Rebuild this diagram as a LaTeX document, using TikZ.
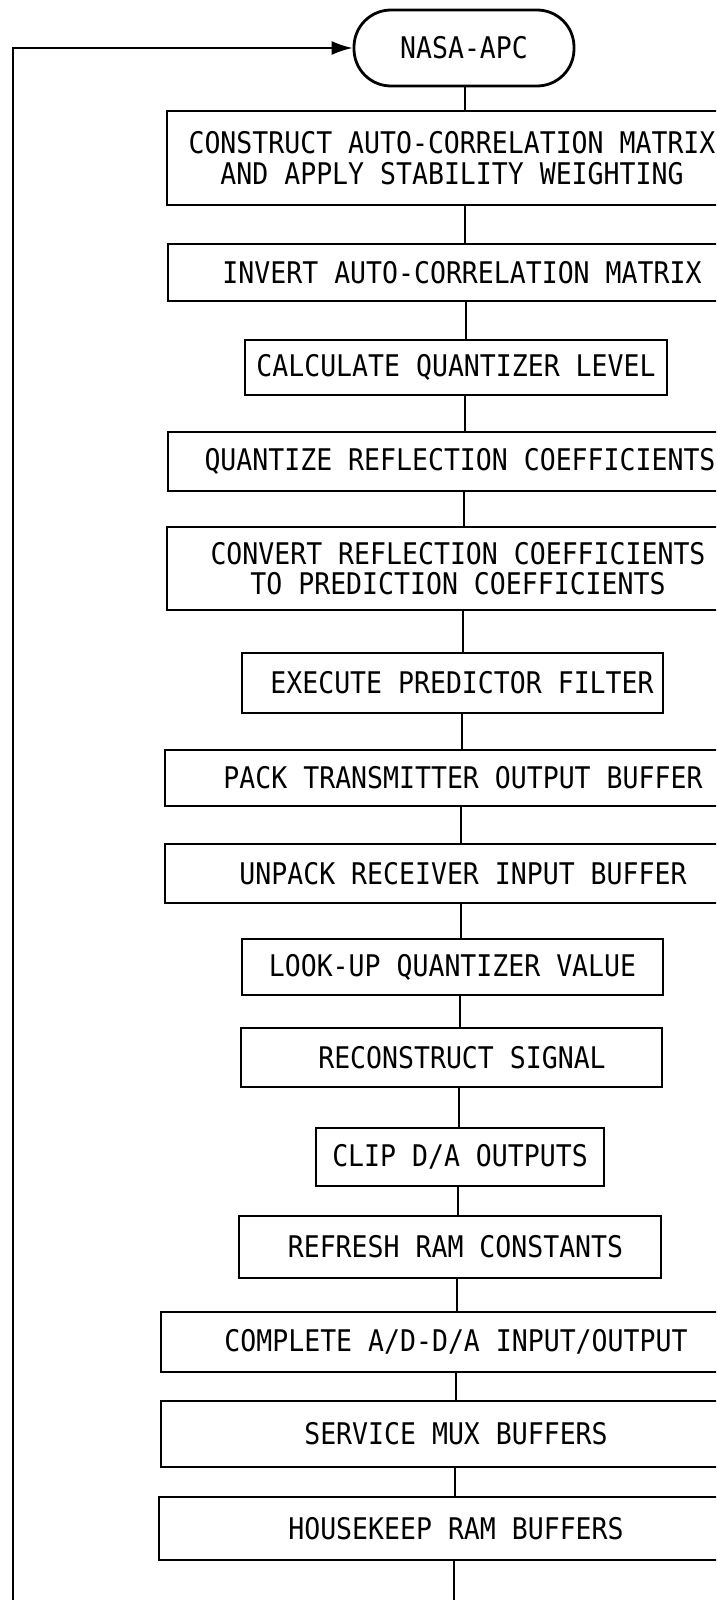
\documentclass[tikz,border=0pt]{standalone}
\usepackage{fontspec}
\newfontfamily\flowfont[FakeStretch=0.89]{DejaVu Sans Mono}
\usetikzlibrary{arrows.meta}
\begin{document}
\begin{tikzpicture}[x=1pt,y=-1pt,
  txt/.style={font=\flowfont\fontsize{29.8pt}{30.5pt}\selectfont},
  box/.style={txt, draw, line width=1.8pt, inner sep=0pt, align=center},
  term/.style={txt, draw, line width=2.8pt, rounded corners=37pt,
    minimum width=220pt, minimum height=76pt, inner sep=0pt},
  conn/.style={line width=1.6pt},
  loopline/.style={line width=2pt}]
\path[use as bounding box, fill=white] (0,0) rectangle (716,1600);
\clip (0,0) rectangle (716,1600);

\node[term] (t) at (464,48) {NASA-APC};

\node[box, minimum width=570pt, minimum height=94pt] (b1) at (452,158)
  {CONSTRUCT AUTO-CORRELATION MATRIX\\AND APPLY STABILITY WEIGHTING};
\node[box, minimum width=588pt, minimum height=57pt] (b2) at (462,272.5)
  {INVERT AUTO-CORRELATION MATRIX};
\node[box, minimum width=422pt, minimum height=55pt] (b3) at (456,367.5)
  {CALCULATE QUANTIZER LEVEL};
\node[box, minimum width=584pt, minimum height=59pt] (b4) at (460,461.5)
  {QUANTIZE REFLECTION COEFFICIENTS};
\node[box, minimum width=582pt, minimum height=83pt] (b5) at (458,568.5)
  {CONVERT REFLECTION COEFFICIENTS\\TO PREDICTION COEFFICIENTS};
\node[box, minimum width=421pt, minimum height=60pt] (b6) at (452.5,683)
  {\hspace*{19pt}EXECUTE PREDICTOR FILTER};
\node[box, minimum width=596pt, minimum height=56pt] (b7) at (463,778)
  {PACK TRANSMITTER OUTPUT BUFFER};
\node[box, minimum width=596pt, minimum height=59pt] (b8) at (463,873.5)
  {UNPACK RECEIVER INPUT BUFFER};
\node[box, minimum width=421pt, minimum height=56pt] (b9) at (452.5,967)
  {LOOK-UP QUANTIZER VALUE};
\node[box, minimum width=421pt, minimum height=59pt] (b10) at (451.5,1057.5)
  {\hspace*{21pt}RECONSTRUCT SIGNAL};
\node[box, minimum width=288pt, minimum height=58pt] (b11) at (460,1157)
  {CLIP D/A OUTPUTS};
\node[box, minimum width=422pt, minimum height=62pt] (b12) at (450,1247)
  {\hspace*{11pt}REFRESH RAM CONSTANTS};
\node[box, minimum width=590pt, minimum height=60pt] (b13) at (456,1342)
  {COMPLETE A/D-D/A INPUT/OUTPUT};
\node[box, minimum width=590pt, minimum height=66pt] (b14) at (456,1434)
  {SERVICE MUX BUFFERS};
\node[box, minimum width=594pt, minimum height=63pt] (b15) at (456,1528.5)
  {HOUSEKEEP RAM BUFFERS};

\draw[conn] (t.south -| 465,0) -- (b1.north -| 465,0);
\draw[conn] (b1.south -| 465,0) -- (b2.north -| 465,0);
\draw[conn] (b2.south -| 466,0) -- (b3.north -| 466,0);
\draw[conn] (b3.south -| 465,0) -- (b4.north -| 465,0);
\draw[conn] (b4.south -| 464,0) -- (b5.north -| 464,0);
\draw[conn] (b5.south -| 463,0) -- (b6.north -| 463,0);
\draw[conn] (b6.south -| 462,0) -- (b7.north -| 462,0);
\draw[conn] (b7.south -| 461,0) -- (b8.north -| 461,0);
\draw[conn] (b8.south -| 461,0) -- (b9.north -| 461,0);
\draw[conn] (b9.south -| 460,0) -- (b10.north -| 460,0);
\draw[conn] (b10.south -| 459,0) -- (b11.north -| 459,0);
\draw[conn] (b11.south -| 458,0) -- (b12.north -| 458,0);
\draw[conn] (b12.south -| 457,0) -- (b13.north -| 457,0);
\draw[conn] (b13.south -| 456,0) -- (b14.north -| 456,0);
\draw[conn] (b14.south -| 455,0) -- (b15.north -| 455,0);

\coordinate (tail) at (454,1600);
\draw[conn] (b15.south -| tail) -- (tail);

\coordinate (loopfoot) at (13,1600);
\draw[loopline, -{Latex[length=21pt,width=14pt]}] (loopfoot) |- (t.west);
\end{tikzpicture}
\end{document}
